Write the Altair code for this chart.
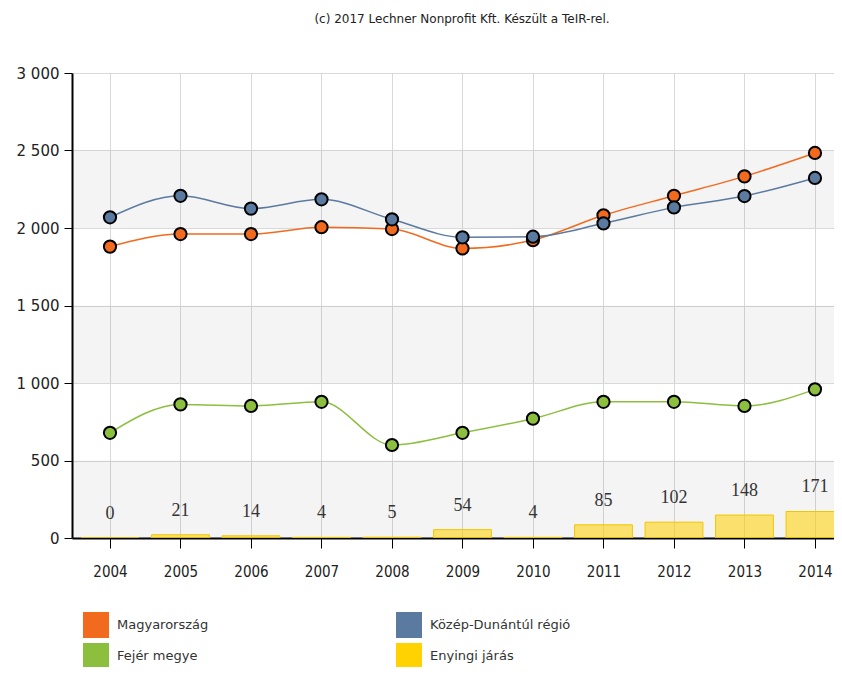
import altair as alt
import pandas as pd

years = [2004, 2005, 2006, 2007, 2008, 2009, 2010, 2011, 2012, 2013, 2014]
magyarorszag = [1880, 1961, 1961, 2005, 1993, 1868, 1922, 2082, 2208, 2333, 2484]
kozep_dunantul = [2069, 2208, 2125, 2185, 2056, 1940, 1944, 2030, 2133, 2206, 2323]
fejer = [679, 862, 852, 879, 600, 679, 770, 879, 879, 852, 959]
enying = [0, 21, 14, 4, 5, 54, 4, 85, 102, 148, 171]

series_names = ["Magyarország", "Közép-Dunántúl régió", "Fejér megye", "Enyingi járás"]
series_colors = ["#f26a1d", "#5b7aa0", "#8dbf3f", "#ffd200"]
title_text = "(c) 2017 Lechner Nonprofit Kft. Készült a TeIR-rel."

band_lo = [0, 1000, 2000]
band_hi = [500, 1500, 2500]
y_ticks = [0, 500, 1000, 1500, 2000, 2500, 3000]

FONT = "DejaVu Sans Condensed"

lines_df = pd.DataFrame(
    [{"year": y, "value": v, "series": series_names[2]} for y, v in zip(years, fejer)]
    + [{"year": y, "value": v, "series": series_names[0]} for y, v in zip(years, magyarorszag)]
    + [{"year": y, "value": v, "series": series_names[1]} for y, v in zip(years, kozep_dunantul)]
)
bars_df = pd.DataFrame({"year": years, "value": enying, "series": series_names[3]})
bands_df = pd.DataFrame({"lo": band_lo, "hi": band_hi})

color_scale = alt.Scale(domain=series_names, range=series_colors)
x_scale = alt.Scale(domain=[2003.461, 2014.27], nice=False, zero=False, padding=0)
y_scale = alt.Scale(domain=[0, 3000], nice=False, padding=0)

legend = alt.Legend(
    title=None, orient="none", legendX=11, legendY=539, columns=2,
    symbolType="square", symbolSize=676, symbolStrokeWidth=0, symbolOpacity=1,
    labelFont="DejaVu Sans", labelFontSize=13, labelColor="#333", labelOffset=8,
    rowPadding=5, columnPadding=187, direction="horizontal",
)

x_axis = alt.Axis(values=years, format="d", title=None, grid=True, gridColor="#d9d9d9",
                  domainColor="#000", domainWidth=2, tickColor="#000", tickSize=10,
                  labelFontSize=15, labelFont=FONT, labelColor="#222", labelPadding=16)
y_axis = alt.Axis(values=y_ticks, title=None, grid=True, gridColor="#d9d9d9",
                  domainColor="#000", domainWidth=2, tickColor="#000", tickSize=8,
                  labelFontSize=15, labelFont="DejaVu Sans", labelColor="#222", labelPadding=5,
                  labelExpr="replace(format(datum.value, ','), ',', ' ')")

bands = alt.Chart(bands_df).mark_rect(color="#000", opacity=0.045).encode(
    y=alt.Y("lo:Q", scale=y_scale, axis=y_axis),
    y2="hi:Q",
)

bars = alt.Chart(bars_df).transform_calculate(
    x0="datum.year - 0.41", x1="datum.year + 0.41"
).mark_bar(fillOpacity=0.55, strokeWidth=1, stroke="#f2c500", clip=True).encode(
    x=alt.X("x0:Q", scale=x_scale, axis=x_axis),
    x2="x1:Q",
    y=alt.Y("value:Q", scale=y_scale, stack=None),
    y2=alt.datum(0),
    color=alt.Color("series:N", scale=color_scale, legend=legend),
)

bar_labels = alt.Chart(bars_df).mark_text(
    font="Liberation Serif", fontSize=18, color="#333", dy=-24, baseline="middle"
).encode(
    x=alt.X("year:Q", scale=x_scale),
    y=alt.Y("value:Q", scale=y_scale),
    text="value:Q",
)

lines = alt.Chart(lines_df).mark_line(interpolate="monotone", strokeWidth=1.5).encode(
    x=alt.X("year:Q", scale=x_scale),
    y=alt.Y("value:Q", scale=y_scale),
    color=alt.Color("series:N", scale=color_scale, legend=legend),
    detail="series:N",
    order="year:Q",
)

points = alt.Chart(lines_df).mark_point(
    filled=True, size=150, stroke="#000", strokeWidth=2, opacity=1
).encode(
    x=alt.X("year:Q", scale=x_scale),
    y=alt.Y("value:Q", scale=y_scale),
    color=alt.Color("series:N", scale=color_scale, legend=legend),
)

chart = alt.layer(bands, bars, bar_labels, lines, points).properties(
    width=762, height=465,
    title=alt.TitleParams(title_text, font="DejaVu Sans", fontSize=12, fontWeight="normal",
                          color="#222", offset=40, dx=9, anchor="middle"),
    autosize=alt.AutoSizeParams(type="none"),
    padding={"left": 64, "top": 65, "right": 0, "bottom": 129},
).configure_view(stroke=None)

chart.save("out.html", embed_options={"renderer": "svg", "actions": False})
